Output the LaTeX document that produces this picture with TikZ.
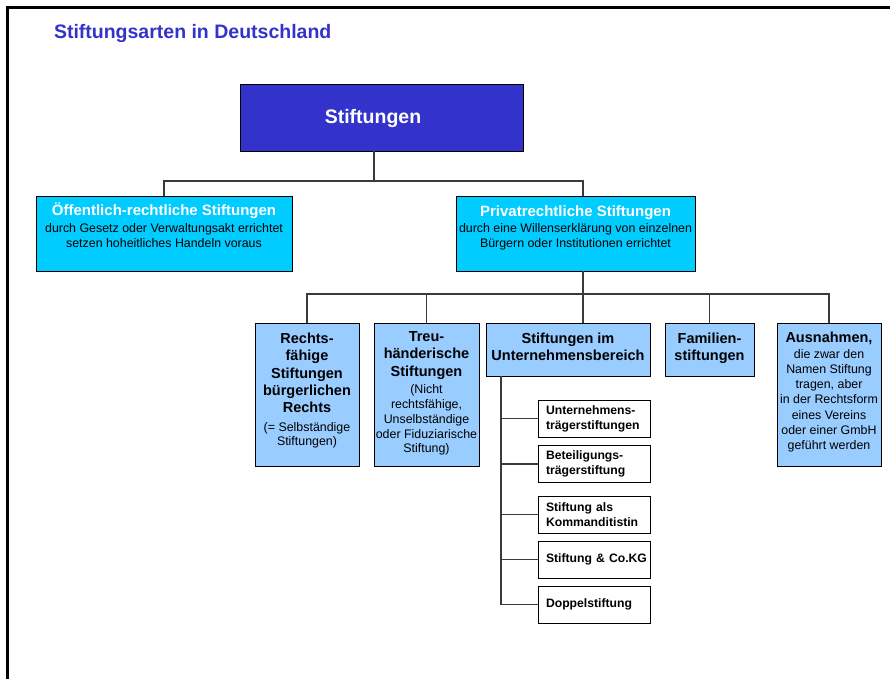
\documentclass[tikz,border=0pt]{standalone}
\usepackage{fontspec}
\setmainfont{Liberation Sans}
\definecolor{dblue}{HTML}{3333CC}
\definecolor{cyanbox}{HTML}{00CCFF}
\definecolor{lblue}{HTML}{99CCFF}
\definecolor{connc}{HTML}{3A3A3A}
\newcommand\smtxt{\fontsize{12.4}{14.5}\selectfont\mdseries}
\begin{document}
\begin{tikzpicture}[x=1pt,y=-1pt,
  every node/.style={inner sep=0pt, outer sep=0pt},
  bx/.style={draw=black, line width=0.9pt},
  cn/.style={draw=connc, line width=1.3pt},
  bigf/.style={font=\bfseries\fontsize{14.5}{17.3}\selectfont},
  lvtxt/.style={anchor=north, align=center},
  wb/.style={draw=black, line width=0.9pt, fill=white, minimum width=112, minimum height=37,
    text width=96, inner xsep=8pt, align=left, font=\bfseries\fontsize{12.2}{15}\selectfont}
]
\useasboundingbox (0,0) rectangle (890,679);
\draw[line width=2.5pt] (7.5,679) -- (7.5,7.5) -- (890,7.5);

% title
\node[anchor=base west, text=dblue, font=\bfseries\fontsize{19.5}{23}\selectfont] (title) at (54,39) {Stiftungsarten in Deutschland};

% top box
\node[bx, fill=dblue, minimum width=283, minimum height=67] (top) at (381.5,117.5) {};
\node[anchor=base, text=white, font=\bfseries\fontsize{19.5}{23}\selectfont] (toptxt) at (373,124) {Stiftungen};

% level 2
\node[bx, fill=cyanbox, minimum width=256, minimum height=75] (oe) at (164,233.5) {};
\node[lvtxt, text=white, font=\bfseries\fontsize{15}{15}\selectfont] (oet) at (164,203) {Öffentlich-rechtliche Stiftungen};
\node[lvtxt, font=\fontsize{12.4}{14.8}\selectfont] (oes) at (164,223.5) {durch Gesetz oder Verwaltungsakt errichtet\\setzen hoheitliches Handeln voraus};

\node[bx, fill=cyanbox, minimum width=239, minimum height=75] (pr) at (575.5,233.5) {};
\node[lvtxt, text=white, font=\bfseries\fontsize{15}{15}\selectfont] (prt) at (575.5,206) {Privatrechtliche Stiftungen};
\node[lvtxt, font=\fontsize{12.4}{14.8}\selectfont] (prs) at (575.5,223.5) {durch eine Willenserklärung von einzelnen\\Bürgern oder Institutionen errichtet};

% level 3
\node[bx, fill=lblue, minimum width=104, minimum height=143] (rf) at (307,394.5) {};
\node[lvtxt, bigf] (rft) at (307,333) {Rechts-\\fähige\\Stiftungen\\bürgerlichen\\Rechts\\[1.5pt]\smtxt (= Selbständige\\[-3pt]\smtxt Stiftungen)};

\node[bx, fill=lblue, minimum width=105, minimum height=143] (tr) at (426.5,394.5) {};
\node[lvtxt, bigf] (trt) at (426.5,331.5) {Treu-\\händerische\\Stiftungen\\\smtxt (Nicht\\[-2.4pt]\smtxt rechtsfähige,\\[-2.4pt]\smtxt Unselbständige\\[-2.4pt]\smtxt oder Fiduziarische\\[-2.4pt]\smtxt Stiftung)};

\node[bx, fill=lblue, minimum width=164, minimum height=53] (ub) at (568,349.5) {};
\node[lvtxt, bigf] (ubt) at (568,333) {Stiftungen im\\Unternehmensbereich};

\node[bx, fill=lblue, minimum width=89, minimum height=53] (fa) at (709.5,349.5) {};
\node[lvtxt, bigf] (fat) at (709.5,333) {Familien-\\stiftungen};

\node[bx, fill=lblue, minimum width=104, minimum height=143] (au) at (829,394.5) {};
\node[lvtxt, bigf] (aut) at (829,332) {Ausnahmen,\\[-1.5pt]\smtxt die zwar den\\[-2.1pt]\smtxt Namen Stiftung\\[-2.1pt]\smtxt tragen, aber\\[-2.1pt]\smtxt in der Rechtsform\\[-2.1pt]\smtxt eines Vereins\\[-2.1pt]\smtxt oder einer GmbH\\[-2.1pt]\smtxt geführt werden};

% level 4
\node[wb] (s1) at (594,418.5) {Unternehmens-\\trägerstiftungen};
\node[wb] (s2) at (594,464) {Beteiligungs-\\trägerstiftung};
\node[wb] (s3) at (594,514.5) {Stiftung als\\Kommanditistin};
\node[wb] (s4) at (594,559.5) {\mbox{Stiftung \& Co.KG}};
\node[wb] (s5) at (594,604.5) {Doppelstiftung};

% connectors
\coordinate (j0) at (374,181);
\draw[cn] (top.south -| j0) -- (j0);
\draw[cn] (oe.north) |- (j0) -| ([xshift=7.5pt]pr.north);

\coordinate (j1) at (583,294);
\draw[cn] ([xshift=7.5pt]pr.south) -- (j1);
\draw[cn] (rf.north) |- (j1) -| (au.north);
\draw[cn] (tr.north |- j1) -- (tr.north);
\draw[cn] (fa.north |- j1) -- (fa.north);
\draw[cn] (j1) -- ([xshift=15pt]ub.north);

\coordinate (trk) at ([xshift=-67pt]ub.south);
\draw[cn] (trk) -- (trk |- s5.west);
\draw[cn] (trk |- s1.west) -- (s1.west);
\draw[cn] (trk |- s2.west) -- (s2.west);
\draw[cn] (trk |- s3.west) -- (s3.west);
\draw[cn] (trk |- s4.west) -- (s4.west);
\draw[cn] (trk |- s5.west) -- (s5.west);
\end{tikzpicture}
\end{document}
